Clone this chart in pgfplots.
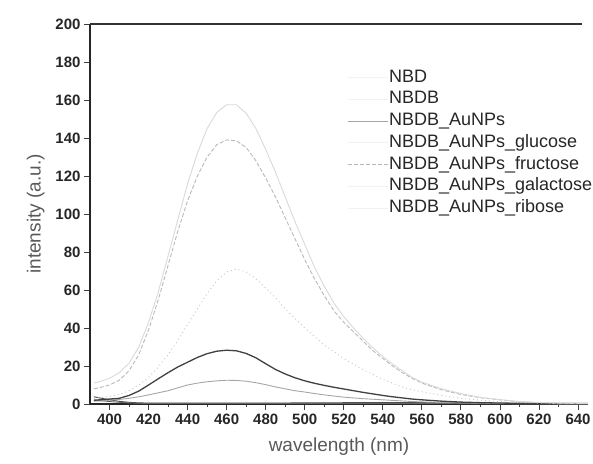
\documentclass[border=0pt]{standalone}
\usepackage{fontspec}
\setmainfont{Liberation Sans}
\usepackage{pgfplots}
\usepackage{pgfplotstable}
\pgfplotsset{compat=1.18}

% wavelength, NBD, NBDB, NBDB_AuNPs, +glucose, +fructose, +galactose, +ribose
\pgfplotstableread{
wl   nbd  nbdb aunp gluc  fruc  gala  ribo
392  3.8  2.0  1.5  2.0   8.0   3.0   11.0
395  3.2  1.8  1.6  2.2   8.6   3.3   11.8
400  2.2  1.3  2.0  2.6   10.0  4.0   13.5
405  1.4  0.9  2.4  3.0   12.5  5.0   16.5
410  0.9  0.6  3.0  4.5   17.5  7.0   21.5
415  0.6  0.4  3.8  6.8   26.0  10.0  30.0
420  0.5  0.3  4.8  10.0  39.0  14.0  43.0
425  0.5  0.3  5.9  13.3  55.0  19.5  59.0
430  0.5  0.3  7.0  16.5  73.0  26.0  78.0
435  0.5  0.3  8.5  19.5  91.0  33.5  97.0
440  0.5  0.3  10.0 22.0  107.0 42.0  116.0
445  0.5  0.3  11.0 24.5  120.0 50.0  132.0
450  0.5  0.3  11.7 26.5  130.0 58.0  145.0
455  0.5  0.3  12.2 27.8  136.5 65.0  153.5
460  0.5  0.3  12.5 28.3  139.0 69.5  157.5
465  0.5  0.3  12.4 28.0  138.5 71.0  157.5
470  0.5  0.3  12.0 26.6  135.0 69.5  153.0
475  0.5  0.3  11.2 24.3  128.0 66.0  145.0
480  0.5  0.3  10.2 21.2  119.0 61.0  134.0
485  0.5  0.3  9.0  18.2  109.0 56.0  122.0
490  0.5  0.3  8.0  15.8  98.0  50.0  109.0
495  0.6  0.3  7.0  13.8  87.0  45.0  96.0
500  0.6  0.3  6.3  12.2  76.0  40.0  84.0
505  0.6  0.3  5.5  10.9  66.0  35.5  72.0
510  0.6  0.3  4.8  9.8   57.0  31.0  62.0
515  0.6  0.3  4.2  8.8   49.0  27.5  53.0
520  0.7  0.3  3.6  7.9   43.0  24.0  46.0
525  0.7  0.3  3.2  7.0   38.0  21.0  40.0
530  0.7  0.3  2.8  6.1   33.0  18.0  34.5
535  0.7  0.3  2.5  5.3   28.0  15.5  29.5
540  0.8  0.3  2.2  4.5   24.0  13.0  25.0
545  0.8  0.3  1.9  3.8   20.0  11.0  21.0
550  0.8  0.3  1.6  3.2   16.5  9.0   17.5
555  0.8  0.3  1.3  2.6   13.5  7.5   14.0
560  0.8  0.3  1.1  2.2   11.0  6.5   11.5
570  0.7  0.3  0.8  1.5   7.5   4.5   8.0
580  0.6  0.3  0.6  1.0   5.0   3.0   5.5
590  0.5  0.2  0.4  0.7   3.3   2.0   3.5
600  0.4  0.2  0.3  0.5   2.2   1.2   2.3
610  0.3  0.2  0.2  0.4   1.2   0.8   1.3
620  0.3  0.2  0.2  0.3   0.7   0.6   0.8
630  0.2  0.1  0.1  0.2   0.4   0.4   0.5
645  0.2  0.1  0.1  0.2   0.3   0.3   0.3
}\spectra

\begin{document}
\begin{tikzpicture}
\begin{axis}[
  scale only axis,
  width=498pt, height=380pt,
  xmin=390, xmax=645.1,
  ymin=0, ymax=200,
  axis x line*=bottom,
  axis y line*=left,
  axis line style={line width=1.3pt, black!85},
  xtick={400,420,...,640},
  ytick={0,20,...,200},
  minor x tick num=1,
  tick align=outside,
  major tick length=6pt,
  minor tick length=3pt,
  tick style={line width=0.9pt, black!75},
  /pgf/number format/assume math mode=true,
  ticklabel style={font=\fontsize{15}{15}\selectfont\bfseries, text=black!85},
  xlabel={wavelength (nm)},
  ylabel={intensity (a.u.)},
  label style={font=\fontsize{19}{19}\selectfont, text=black!65},
  xlabel style={yshift=-7pt},
  ylabel style={yshift=4pt},
  legend cell align=left,
  legend style={draw=none, fill=none, at={(rel axis cs:0.516,0.884)}, anchor=north west,
    font=\fontsize{18}{18}\selectfont, text=black!85, row sep=2.7pt, inner sep=0pt,
    nodes={inner sep=1pt, text height=13pt, text depth=4pt}},
  legend image code/.code={\draw[#1] (0pt,0pt) -- (40pt,0pt);},
  every axis plot/.append style={forget plot},
]
\addplot[black!70, line width=0.9pt] table[x=wl, y=nbd] {\spectra};
\addplot[black!60, line width=0.9pt] table[x=wl, y=nbdb] {\spectra};
\addplot[gray!70, line width=0.9pt] table[x=wl, y=aunp] {\spectra};
\addplot[black!75, line width=1.3pt] table[x=wl, y=gluc] {\spectra};
\addplot[gray!55, line width=0.9pt, dash pattern=on 4pt off 2pt] table[x=wl, y=fruc] {\spectra};
\addplot[gray!45, line width=0.9pt, dash pattern=on 1pt off 3pt] table[x=wl, y=gala] {\spectra};
\addplot[gray!30, line width=0.9pt] table[x=wl, y=ribo] {\spectra};

\addlegendimage{gray!10, line width=0.8pt}
\addlegendentry{NBD}
\addlegendimage{gray!10, line width=0.8pt}
\addlegendentry{NBDB}
\addlegendimage{gray!70, line width=0.9pt}
\addlegendentry{NBDB\_AuNPs}
\addlegendimage{gray!10, line width=0.8pt}
\addlegendentry{NBDB\_AuNPs\_glucose}
\addlegendimage{gray!55, line width=0.9pt, dash pattern=on 4pt off 2pt}
\addlegendentry{NBDB\_AuNPs\_fructose}
\addlegendimage{gray!10, line width=0.8pt}
\addlegendentry{NBDB\_AuNPs\_galactose}
\addlegendimage{gray!10, line width=0.8pt}
\addlegendentry{NBDB\_AuNPs\_ribose}

\draw[line width=1.3pt, black!80] (rel axis cs:0,1) -- (rel axis cs:0.988,1);
\end{axis}
\pgfresetboundingbox
\path[use as bounding box] (-90pt,-59pt) rectangle (503pt,404pt);
\end{tikzpicture}
\end{document}
